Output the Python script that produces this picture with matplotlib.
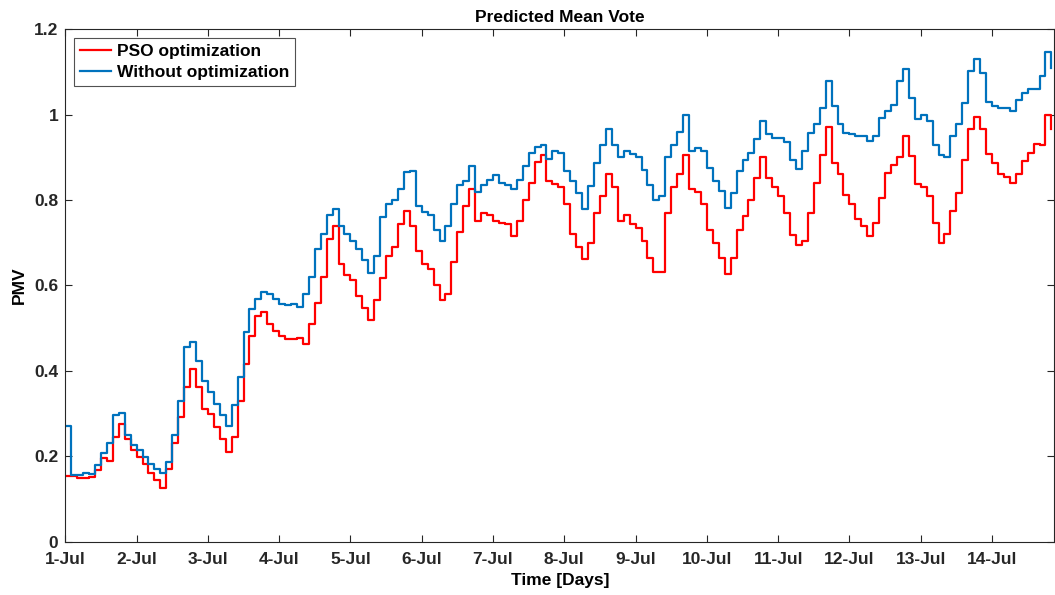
import numpy as np
import pandas as pd
import matplotlib
matplotlib.use("Agg")
import matplotlib.pyplot as plt
import matplotlib.dates as mdates

plt.rcParams['font.family'] = ['Liberation Sans', 'DejaVu Sans']
plt.rcParams['font.weight'] = 'bold'

# PMV, one value every 2 hours starting 1-Jul 00:00
pso = [0.155, 0.153, 0.150, 0.150, 0.152, 0.167, 0.195, 0.190, 0.245, 0.275,
       0.240, 0.214, 0.198, 0.183, 0.160, 0.144, 0.125, 0.171, 0.230, 0.292,
       0.362, 0.405, 0.362, 0.311, 0.300, 0.268, 0.241, 0.210, 0.245, 0.330,
       0.416, 0.482, 0.529, 0.537, 0.510, 0.494, 0.482, 0.475, 0.475, 0.477,
       0.463, 0.510, 0.560, 0.620, 0.710, 0.740, 0.650, 0.625, 0.612, 0.575,
       0.548, 0.520, 0.565, 0.618, 0.668, 0.690, 0.745, 0.774, 0.740, 0.680,
       0.650, 0.638, 0.600, 0.567, 0.580, 0.655, 0.725, 0.785, 0.825, 0.750,
       0.770, 0.766, 0.750, 0.747, 0.743, 0.715, 0.750, 0.800, 0.840, 0.890,
       0.905, 0.845, 0.837, 0.830, 0.790, 0.720, 0.690, 0.662, 0.700, 0.770,
       0.810, 0.862, 0.830, 0.750, 0.766, 0.745, 0.735, 0.705, 0.665, 0.631,
       0.632, 0.770, 0.830, 0.860, 0.905, 0.825, 0.820, 0.790, 0.730, 0.700,
       0.665, 0.626, 0.665, 0.731, 0.762, 0.800, 0.852, 0.900, 0.852, 0.830,
       0.809, 0.770, 0.719, 0.695, 0.705, 0.770, 0.841, 0.905, 0.970, 0.887,
       0.860, 0.813, 0.790, 0.755, 0.740, 0.716, 0.747, 0.805, 0.864, 0.881,
       0.900, 0.950, 0.903, 0.837, 0.830, 0.809, 0.747, 0.700, 0.720, 0.775,
       0.817, 0.895, 0.966, 0.995, 0.966, 0.907, 0.887, 0.860, 0.855, 0.841,
       0.860, 0.891, 0.911, 0.931, 0.930, 1.000, 0.967]

no_opt = [0.270, 0.156, 0.157, 0.160, 0.158, 0.180, 0.208, 0.230, 0.296, 0.302,
          0.250, 0.226, 0.214, 0.198, 0.183, 0.171, 0.160, 0.187, 0.250, 0.330,
          0.455, 0.467, 0.424, 0.377, 0.350, 0.323, 0.296, 0.272, 0.320, 0.385,
          0.490, 0.545, 0.568, 0.584, 0.580, 0.568, 0.556, 0.555, 0.556, 0.550,
          0.580, 0.620, 0.685, 0.720, 0.765, 0.780, 0.740, 0.720, 0.705, 0.685,
          0.660, 0.630, 0.670, 0.760, 0.790, 0.800, 0.825, 0.865, 0.868, 0.785,
          0.772, 0.765, 0.730, 0.705, 0.740, 0.790, 0.835, 0.845, 0.880, 0.820,
          0.835, 0.848, 0.858, 0.840, 0.835, 0.825, 0.848, 0.880, 0.910, 0.925,
          0.930, 0.896, 0.915, 0.910, 0.868, 0.845, 0.817, 0.778, 0.833, 0.887,
          0.930, 0.966, 0.930, 0.900, 0.915, 0.907, 0.900, 0.870, 0.835, 0.801,
          0.810, 0.900, 0.930, 0.960, 1.000, 0.915, 0.923, 0.915, 0.876, 0.845,
          0.821, 0.782, 0.817, 0.868, 0.895, 0.911, 0.942, 0.985, 0.954, 0.946,
          0.946, 0.935, 0.895, 0.872, 0.915, 0.958, 0.977, 1.016, 1.080, 1.020,
          0.977, 0.958, 0.954, 0.951, 0.950, 0.938, 0.950, 0.993, 1.009, 1.022,
          1.080, 1.106, 1.040, 0.989, 0.999, 0.985, 0.930, 0.905, 0.900, 0.950,
          0.977, 1.028, 1.102, 1.131, 1.098, 1.030, 1.020, 1.016, 1.016, 1.009,
          1.035, 1.050, 1.060, 1.060, 1.090, 1.146, 1.110]

start = pd.Timestamp("2019-07-01 00:00")
times = pd.date_range(start, periods=len(pso), freq="2h")

fig = plt.figure(figsize=(10.55, 5.95), dpi=100)
ax = fig.add_axes([0.0619, 0.0896, 0.9375, 0.8612])

ax.plot(times, pso, color="#FF0000", lw=1.6, drawstyle="steps-post", label="PSO optimization")
ax.plot(times, no_opt, color="#0072BD", lw=1.6, drawstyle="steps-post", label="Without optimization")

ax.set_xlim(start, start + pd.Timedelta(hours=333))
ax.set_ylim(0, 1.2)
ax.set_yticks([0, 0.2, 0.4, 0.6, 0.8, 1.0, 1.2])
ax.set_yticklabels(["0", "0.2", "0.4", "0.6", "0.8", "1", "1.2"])
ax.xaxis.set_major_locator(mdates.DayLocator())
ax.xaxis.set_major_formatter(mdates.DateFormatter("%-d-%b"))

ax.tick_params(direction="in", length=5, width=0.8, top=True, right=True,
               labelsize=12.5, colors="#262626")
ax.tick_params(axis="x", pad=7.5)
ax.tick_params(axis="y", pad=5)
for lab in ax.get_xticklabels() + ax.get_yticklabels():
    lab.set_fontweight("bold")
for sp in ax.spines.values():
    sp.set_color("#262626")
    sp.set_linewidth(0.8)

ax.set_title("Predicted Mean Vote", fontsize=12.5, fontweight="bold", pad=5)
ax.set_xlabel("Time [Days]", fontsize=12.5, fontweight="bold", labelpad=4.5)
ax.set_ylabel("PMV", fontsize=12.5, fontweight="bold", labelpad=5)

leg = ax.legend(loc="upper left", fontsize=12.5, frameon=True, fancybox=False,
                edgecolor="#262626", handlelength=1.8, handletextpad=0.3,
                borderaxespad=0.5, borderpad=0.35, labelspacing=0.32)
leg.get_frame().set_linewidth(0.8)
for t in leg.get_texts():
    t.set_fontweight("bold")

fig.savefig("out.png", dpi=100)
